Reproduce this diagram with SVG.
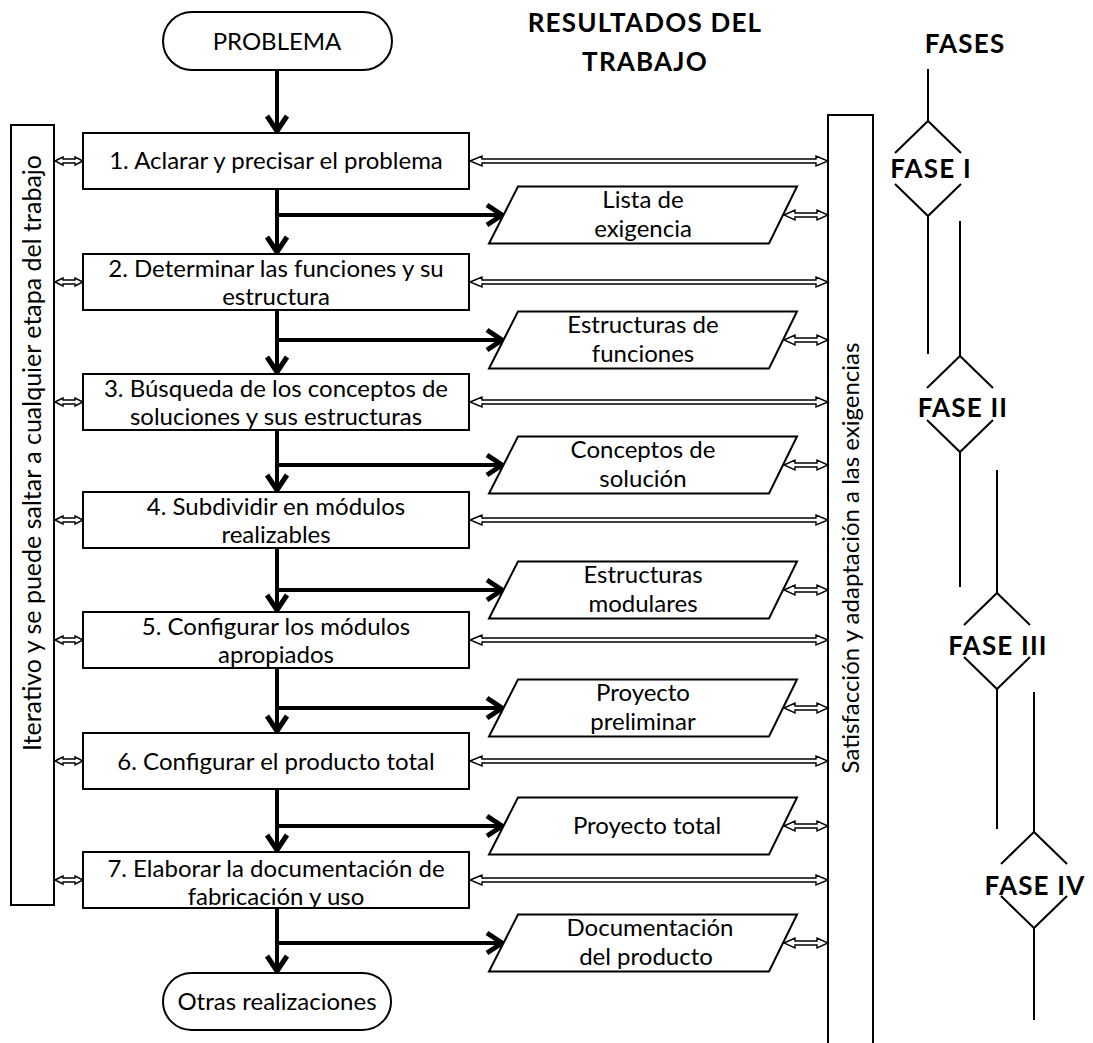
<svg xmlns="http://www.w3.org/2000/svg" width="1093" height="1043" viewBox="0 0 1093 1043">
  <style>
    .box { fill: #fff; stroke: #000; stroke-width: 2; }
    .t { font-family: Lato, "Liberation Sans", sans-serif; font-size: 24px; fill: #000; text-anchor: middle; }
    .h { font-family: Lato, "Liberation Sans", sans-serif; font-size: 26px; font-weight: bold; letter-spacing: 1.2px; fill: #000; text-anchor: middle; }
    .flow { fill: none; stroke: #000; stroke-width: 4; }
    .dbl { fill: #fff; stroke: #000; stroke-width: 1.4; stroke-linejoin: miter; }
    .ph { fill: none; stroke: #000; stroke-width: 2; }
  </style>
  <defs>
    <marker id="vhead" markerUnits="userSpaceOnUse" markerWidth="30" markerHeight="30" refX="0" refY="0" viewBox="-16 -12 20 24" orient="auto" overflow="visible">
      <path d="M -12 -8 L 0 0 L -12 8" fill="none" stroke="#000" stroke-width="4"/>
    </marker>
  </defs>

  <rect width="1093" height="1043" fill="#fff"/>

  <!-- side bars -->
  <g id="bar-left">
    <rect class="box" x="11" y="125" width="43" height="780"/>
    <text class="t" transform="translate(41 453) rotate(-90)" style="font-size:25px">Iterativo y se puede saltar a cualquier etapa del trabajo</text>
  </g>
  <g id="bar-right">
    <path class="box" d="M 828 1043 V 115 H 873 V 1043"/>
    <text class="t" transform="translate(859 558) rotate(-90)">Satisfacción y adaptación a las exigencias</text>
  </g>

  <!-- connectors -->
  <g id="connectors">
    <!-- main flow -->
    <path class="flow" d="M 277 70 V 131" marker-end="url(#vhead)"/>
    <path class="flow" d="M 277 189 V 252" marker-end="url(#vhead)"/>
    <path class="flow" d="M 277 310 V 372" marker-end="url(#vhead)"/>
    <path class="flow" d="M 277 430 V 490" marker-end="url(#vhead)"/>
    <path class="flow" d="M 277 548 V 610" marker-end="url(#vhead)"/>
    <path class="flow" d="M 277 668 V 731" marker-end="url(#vhead)"/>
    <path class="flow" d="M 277 789 V 850" marker-end="url(#vhead)"/>
    <path class="flow" d="M 277 908 V 971" marker-end="url(#vhead)"/>
    <!-- branches to results -->
    <path class="flow" d="M 277 215 H 502" marker-end="url(#vhead)"/>
    <path class="flow" d="M 277 340 H 502" marker-end="url(#vhead)"/>
    <path class="flow" d="M 277 465 H 502" marker-end="url(#vhead)"/>
    <path class="flow" d="M 277 590 H 502" marker-end="url(#vhead)"/>
    <path class="flow" d="M 277 708 H 502" marker-end="url(#vhead)"/>
    <path class="flow" d="M 277 826 H 502" marker-end="url(#vhead)"/>
    <path class="flow" d="M 277 943 H 502" marker-end="url(#vhead)"/>

    <!-- left bar <-> steps -->
    <polygon class="dbl" points="55,161 63,157 63,159 75,159 75,157 83,161 75,165 75,163 63,163 63,165"/>
    <polygon class="dbl" points="55,282 63,278 63,280 75,280 75,278 83,282 75,286 75,284 63,284 63,286"/>
    <polygon class="dbl" points="55,402 63,398 63,400 75,400 75,398 83,402 75,406 75,404 63,404 63,406"/>
    <polygon class="dbl" points="55,520 63,516 63,518 75,518 75,516 83,520 75,524 75,522 63,522 63,524"/>
    <polygon class="dbl" points="55,640 63,636 63,638 75,638 75,636 83,640 75,644 75,642 63,642 63,644"/>
    <polygon class="dbl" points="55,761 63,757 63,759 75,759 75,757 83,761 75,765 75,763 63,763 63,765"/>
    <polygon class="dbl" points="55,880 63,876 63,878 75,878 75,876 83,880 75,884 75,882 63,882 63,884"/>

    <!-- steps <-> right bar -->
    <polygon class="dbl" points="470,161 482,156 482,159 816,159 816,156 828,161 816,166 816,163 482,163 482,166"/>
    <polygon class="dbl" points="470,282 482,277 482,280 816,280 816,277 828,282 816,287 816,284 482,284 482,287"/>
    <polygon class="dbl" points="470,402 482,397 482,400 816,400 816,397 828,402 816,407 816,404 482,404 482,407"/>
    <polygon class="dbl" points="470,520 482,515 482,518 816,518 816,515 828,520 816,525 816,522 482,522 482,525"/>
    <polygon class="dbl" points="470,640 482,635 482,638 816,638 816,635 828,640 816,645 816,642 482,642 482,645"/>
    <polygon class="dbl" points="470,761 482,756 482,759 816,759 816,756 828,761 816,766 816,763 482,763 482,766"/>
    <polygon class="dbl" points="470,880 482,875 482,878 816,878 816,875 828,880 816,885 816,882 482,882 482,885"/>

    <!-- results <-> right bar -->
    <polygon class="dbl" points="784,215 795,210 795,213 817,213 817,210 828,215 817,220 817,217 795,217 795,220"/>
    <polygon class="dbl" points="784,340 795,335 795,338 817,338 817,335 828,340 817,345 817,342 795,342 795,345"/>
    <polygon class="dbl" points="784,465 795,460 795,463 817,463 817,460 828,465 817,470 817,467 795,467 795,470"/>
    <polygon class="dbl" points="784,590 795,585 795,588 817,588 817,585 828,590 817,595 817,592 795,592 795,595"/>
    <polygon class="dbl" points="784,708 795,703 795,706 817,706 817,703 828,708 817,713 817,710 795,710 795,713"/>
    <polygon class="dbl" points="784,826 795,821 795,824 817,824 817,821 828,826 817,831 817,828 795,828 795,831"/>
    <polygon class="dbl" points="784,943 795,938 795,941 817,941 817,938 828,943 817,948 817,945 795,945 795,948"/>
  </g>

  <!-- terminals -->
  <g id="start">
    <rect class="box" x="163" y="12" width="229" height="58" rx="29"/>
    <text class="t" x="277" y="50">PROBLEMA</text>
  </g>
  <g id="end">
    <rect class="box" x="163" y="973" width="228" height="57" rx="28.5"/>
    <text class="t" x="277" y="1010">Otras realizaciones</text>
  </g>

  <!-- design steps -->
  <g id="step1">
    <rect class="box" x="83" y="133" width="386" height="56"/>
    <text class="t" x="276" y="169">1. Aclarar y precisar el problema</text>
  </g>
  <g id="step2">
    <rect class="box" x="83" y="254" width="386" height="56"/>
    <text class="t" x="276" y="277">2. Determinar las funciones y su</text>
    <text class="t" x="276" y="305">estructura</text>
  </g>
  <g id="step3">
    <rect class="box" x="83" y="374" width="386" height="56"/>
    <text class="t" x="276" y="397">3. Búsqueda de los conceptos de</text>
    <text class="t" x="276" y="425">soluciones y sus estructuras</text>
  </g>
  <g id="step4">
    <rect class="box" x="83" y="492" width="386" height="56"/>
    <text class="t" x="276" y="515">4. Subdividir en módulos</text>
    <text class="t" x="276" y="543">realizables</text>
  </g>
  <g id="step5">
    <rect class="box" x="83" y="612" width="386" height="56"/>
    <text class="t" x="276" y="635">5. Configurar los módulos</text>
    <text class="t" x="276" y="663">apropiados</text>
  </g>
  <g id="step6">
    <rect class="box" x="83" y="733" width="386" height="56"/>
    <text class="t" x="276" y="770">6. Configurar el producto total</text>
  </g>
  <g id="step7">
    <rect class="box" x="83" y="852" width="386" height="56"/>
    <text class="t" x="276" y="877">7. Elaborar la documentación de</text>
    <text class="t" x="276" y="905">fabricación y uso</text>
  </g>

  <!-- work results -->
  <g id="res1">
    <polygon class="box" points="518,186.5 797,186.5 769,243.5 489,243.5"/>
    <text class="t" x="643" y="208">Lista de</text>
    <text class="t" x="643" y="237">exigencia</text>
  </g>
  <g id="res2">
    <polygon class="box" points="518,311.5 797,311.5 769,368.5 489,368.5"/>
    <text class="t" x="643" y="333">Estructuras de</text>
    <text class="t" x="643" y="362">funciones</text>
  </g>
  <g id="res3">
    <polygon class="box" points="518,436.5 797,436.5 769,493.5 489,493.5"/>
    <text class="t" x="643" y="458">Conceptos de</text>
    <text class="t" x="643" y="487">solución</text>
  </g>
  <g id="res4">
    <polygon class="box" points="518,561.5 797,561.5 769,618.5 489,618.5"/>
    <text class="t" x="643" y="583">Estructuras</text>
    <text class="t" x="643" y="612">modulares</text>
  </g>
  <g id="res5">
    <polygon class="box" points="518,679.5 797,679.5 769,736.5 489,736.5"/>
    <text class="t" x="643" y="701">Proyecto</text>
    <text class="t" x="643" y="730">preliminar</text>
  </g>
  <g id="res6">
    <polygon class="box" points="518,797.5 797,797.5 769,854.5 489,854.5"/>
    <text class="t" x="647" y="834">Proyecto total</text>
  </g>
  <g id="res7">
    <polygon class="box" points="518,914.5 797,914.5 769,971.5 489,971.5"/>
    <text class="t" x="650" y="936">Documentación</text>
    <text class="t" x="646" y="965">del producto</text>
  </g>

  <!-- headings -->
  <g id="headings">
    <text class="h" x="645" y="32">RESULTADOS DEL</text>
    <text class="h" x="645" y="71">TRABAJO</text>
    <text class="h" x="965" y="53">FASES</text>
  </g>

  <!-- phases -->
  <g id="phase1">
    <path class="ph" d="M 928 69 V 121 M 895 153 L 928 121 L 961 153 M 895 184 L 928 216 L 961 184 M 928 216 V 354"/>
    <text class="h" x="931" y="178">FASE I</text>
  </g>
  <g id="phase2">
    <path class="ph" d="M 960 221 V 356 M 927 388 L 960 356 L 993 388 M 927 420 L 960 452 L 993 420 M 960 452 V 587"/>
    <text class="h" x="963" y="417">FASE II</text>
  </g>
  <g id="phase3">
    <path class="ph" d="M 997 470 V 593 M 964 625 L 997 593 L 1030 625 M 964 657 L 997 689 L 1030 657 M 997 689 V 829"/>
    <text class="h" x="998" y="655">FASE III</text>
  </g>
  <g id="phase4">
    <path class="ph" d="M 1034 692 V 832 M 1001 864 L 1034 832 L 1067 864 M 1001 896 L 1034 928 L 1067 896 M 1034 928 V 1020"/>
    <text class="h" x="1035" y="895">FASE IV</text>
  </g>
</svg>
